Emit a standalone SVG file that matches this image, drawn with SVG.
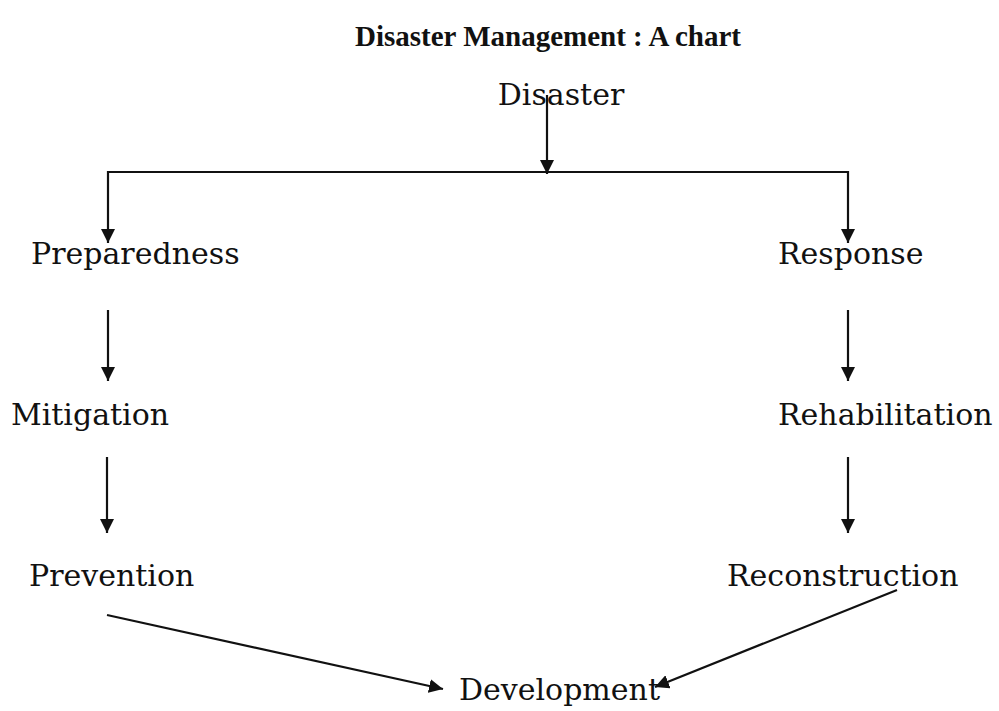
<svg xmlns="http://www.w3.org/2000/svg" width="999" height="711" viewBox="0 0 999 711">
<defs>
<style>
.t{font-family:"DejaVu Serif","Liberation Serif",serif;font-size:30px;fill:#111}
.title{font-family:"Liberation Serif","DejaVu Serif",serif;font-size:29px;font-weight:bold;fill:#111}
.c{stroke:#111;stroke-width:2.2;fill:none}
</style>
<marker id="ah" viewBox="0 0 14 14" refX="14" refY="7" markerWidth="14" markerHeight="14" markerUnits="userSpaceOnUse" orient="auto">
<path d="M0,0 L14,7 L0,14 z" fill="#111"/>
</marker>
</defs>
<rect width="999" height="711" fill="#fff"/>
<text class="title" x="548" y="46" text-anchor="middle">Disaster Management : A chart</text>
<g id="disaster"><text class="t" x="561" y="105" text-anchor="middle">Disaster</text></g>
<g id="preparedness"><text class="t" x="31" y="264">Preparedness</text></g>
<g id="response"><text class="t" x="778" y="264">Response</text></g>
<g id="mitigation"><text class="t" x="11" y="425">Mitigation</text></g>
<g id="rehabilitation"><text class="t" x="778" y="425">Rehabilitation</text></g>
<g id="prevention"><text class="t" x="29" y="586">Prevention</text></g>
<g id="reconstruction"><text class="t" x="727" y="586">Reconstruction</text></g>
<g id="development"><text class="t" x="459" y="700">Development</text></g>
<g id="connectors">
<line class="c" x1="547" y1="95" x2="547" y2="174" marker-end="url(#ah)"/>
<line class="c" x1="107" y1="172" x2="848" y2="172"/>
<line class="c" x1="108" y1="171" x2="108" y2="243" marker-end="url(#ah)"/>
<line class="c" x1="848" y1="171" x2="848" y2="243" marker-end="url(#ah)"/>
<line class="c" x1="108" y1="310" x2="108" y2="381" marker-end="url(#ah)"/>
<line class="c" x1="848" y1="310" x2="848" y2="381" marker-end="url(#ah)"/>
<line class="c" x1="107" y1="457" x2="107" y2="533" marker-end="url(#ah)"/>
<line class="c" x1="848" y1="457" x2="848" y2="533" marker-end="url(#ah)"/>
<line class="c" x1="107" y1="615" x2="443" y2="689" marker-end="url(#ah)"/>
<line class="c" x1="897" y1="590" x2="655" y2="687" marker-end="url(#ah)"/>
</g>
</svg>
